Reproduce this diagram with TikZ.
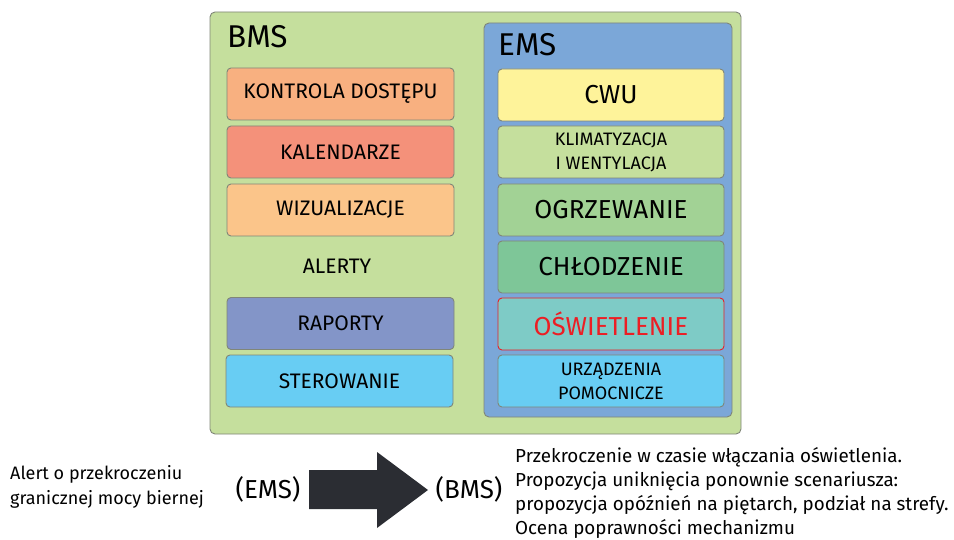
\documentclass[tikz,border=0pt]{standalone}
\usepackage{fontspec}
\setmainfont{Fira Sans}
\begin{document}
\begin{tikzpicture}[x=1pt,y=-1pt,
  frame/.style={draw={rgb,255:red,128;green,134;blue,120},line width=0.9pt,rounded corners=5pt},
  item/.style={frame,rounded corners=4pt,minimum height=52pt,inner sep=0pt,align=center,text=black},
  leftitem/.style={item,minimum width=227pt,font=\fontsize{21}{23}\selectfont},
  rightitem/.style={item,minimum width=226pt},
  big/.style={font=\fontsize{26}{28}\selectfont},
  small/.style={font=\fontsize{18}{24}\selectfont},
  note/.style={inner sep=0pt,align=left,font=\fontsize{18}{24.5}\selectfont}]
\definecolor{bmsgreen}{RGB}{197,223,157}
\definecolor{emsblue}{RGB}{123,167,216}
\definecolor{cKontrola}{RGB}{248,176,128}
\definecolor{cKalendarze}{RGB}{244,145,122}
\definecolor{cWizual}{RGB}{251,197,138}
\definecolor{cRaporty}{RGB}{131,149,200}
\definecolor{cSterow}{RGB}{104,205,243}
\definecolor{cCwu}{RGB}{254,243,154}
\definecolor{cKlima}{RGB}{197,223,157}
\definecolor{cOgrz}{RGB}{162,210,149}
\definecolor{cChlod}{RGB}{126,198,152}
\definecolor{cOsw}{RGB}{126,203,198}
\definecolor{arrowdark}{RGB}{43,45,51}
\definecolor{alertred}{RGB}{236,30,36}
\useasboundingbox (0,0) rectangle (954,540);

% outer BMS panel and inner EMS panel
\node[frame,fill=bmsgreen,minimum width=531pt,minimum height=422pt,inner sep=0pt] (bms) at (475.5,223) {};
\node[anchor=base west,inner sep=0pt,font=\fontsize{31.5}{32}\selectfont] (bmslabel) at (227,48) {BMS};
\node[frame,fill=emsblue,minimum width=248pt,minimum height=394pt,inner sep=0pt] (ems) at (608,220) {};
\node[anchor=base west,inner sep=0pt,font=\fontsize{31.5}{32}\selectfont] (emslabel) at (498,56) {EMS};

% BMS functions
\node[leftitem,fill=cKontrola] (kontrola) at (340.5,94) {KONTROLA DOSTĘPU};
\node[leftitem,fill=cKalendarze] (kalendarze) at (340.5,152) {KALENDARZE};
\node[leftitem,fill=cWizual] (wizual) at (340.5,210) {WIZUALIZACJE};
\node[inner sep=0pt,font=\fontsize{21}{23}\selectfont] (alerty) at (337,266) {ALERTY};
\node[leftitem,fill=cRaporty] (raporty) at (340.5,323.5) {RAPORTY};
\node[leftitem,fill=cSterow] (sterow) at (339.5,381) {STEROWANIE};

% EMS functions
\node[rightitem,big,fill=cCwu] (cwu) at (611,95) {CWU};
\node[rightitem,small,fill=cKlima] (klima) at (611,152) {KLIMATYZACJA\\I WENTYLACJA};
\node[rightitem,big,fill=cOgrz] (ogrz) at (611,210) {OGRZEWANIE};
\node[rightitem,big,fill=cChlod] (chlod) at (611,267) {CHŁODZENIE};
\node[rightitem,big,fill=cOsw,draw=alertred,text=alertred] (osw) at (611,324) {OŚWIETLENIE};
\node[rightitem,small,fill=cSterow] (urz) at (611,381) {URZĄDZENIA\\POMOCNICZE};

% alert flow below the panels
\node[note,anchor=west] (alert) at (10,487) {Alert o przekroczeniu\\granicznej mocy biernej};
\node[inner sep=0pt,font=\fontsize{26}{28}\selectfont] (src) at (268,489) {(EMS)};
\node[inner sep=0pt,font=\fontsize{26}{28}\selectfont] (dst) at (469,489) {(BMS)};
\fill[arrowdark] (309,470) -- (377,470) -- (377,452) -- (428,490) -- (377,528) -- (377,509) -- (309,509) -- cycle;
\node[note,anchor=north west,font=\fontsize{18.8}{24}\selectfont] (action) at (515,447) {Przekroczenie w czasie włączania oświetlenia.\\Propozycja uniknięcia ponownie scenariusza:\\propozycja opóźnień na piętarch, podział na strefy.\\Ocena poprawności mechanizmu};
\end{tikzpicture}
\end{document}
